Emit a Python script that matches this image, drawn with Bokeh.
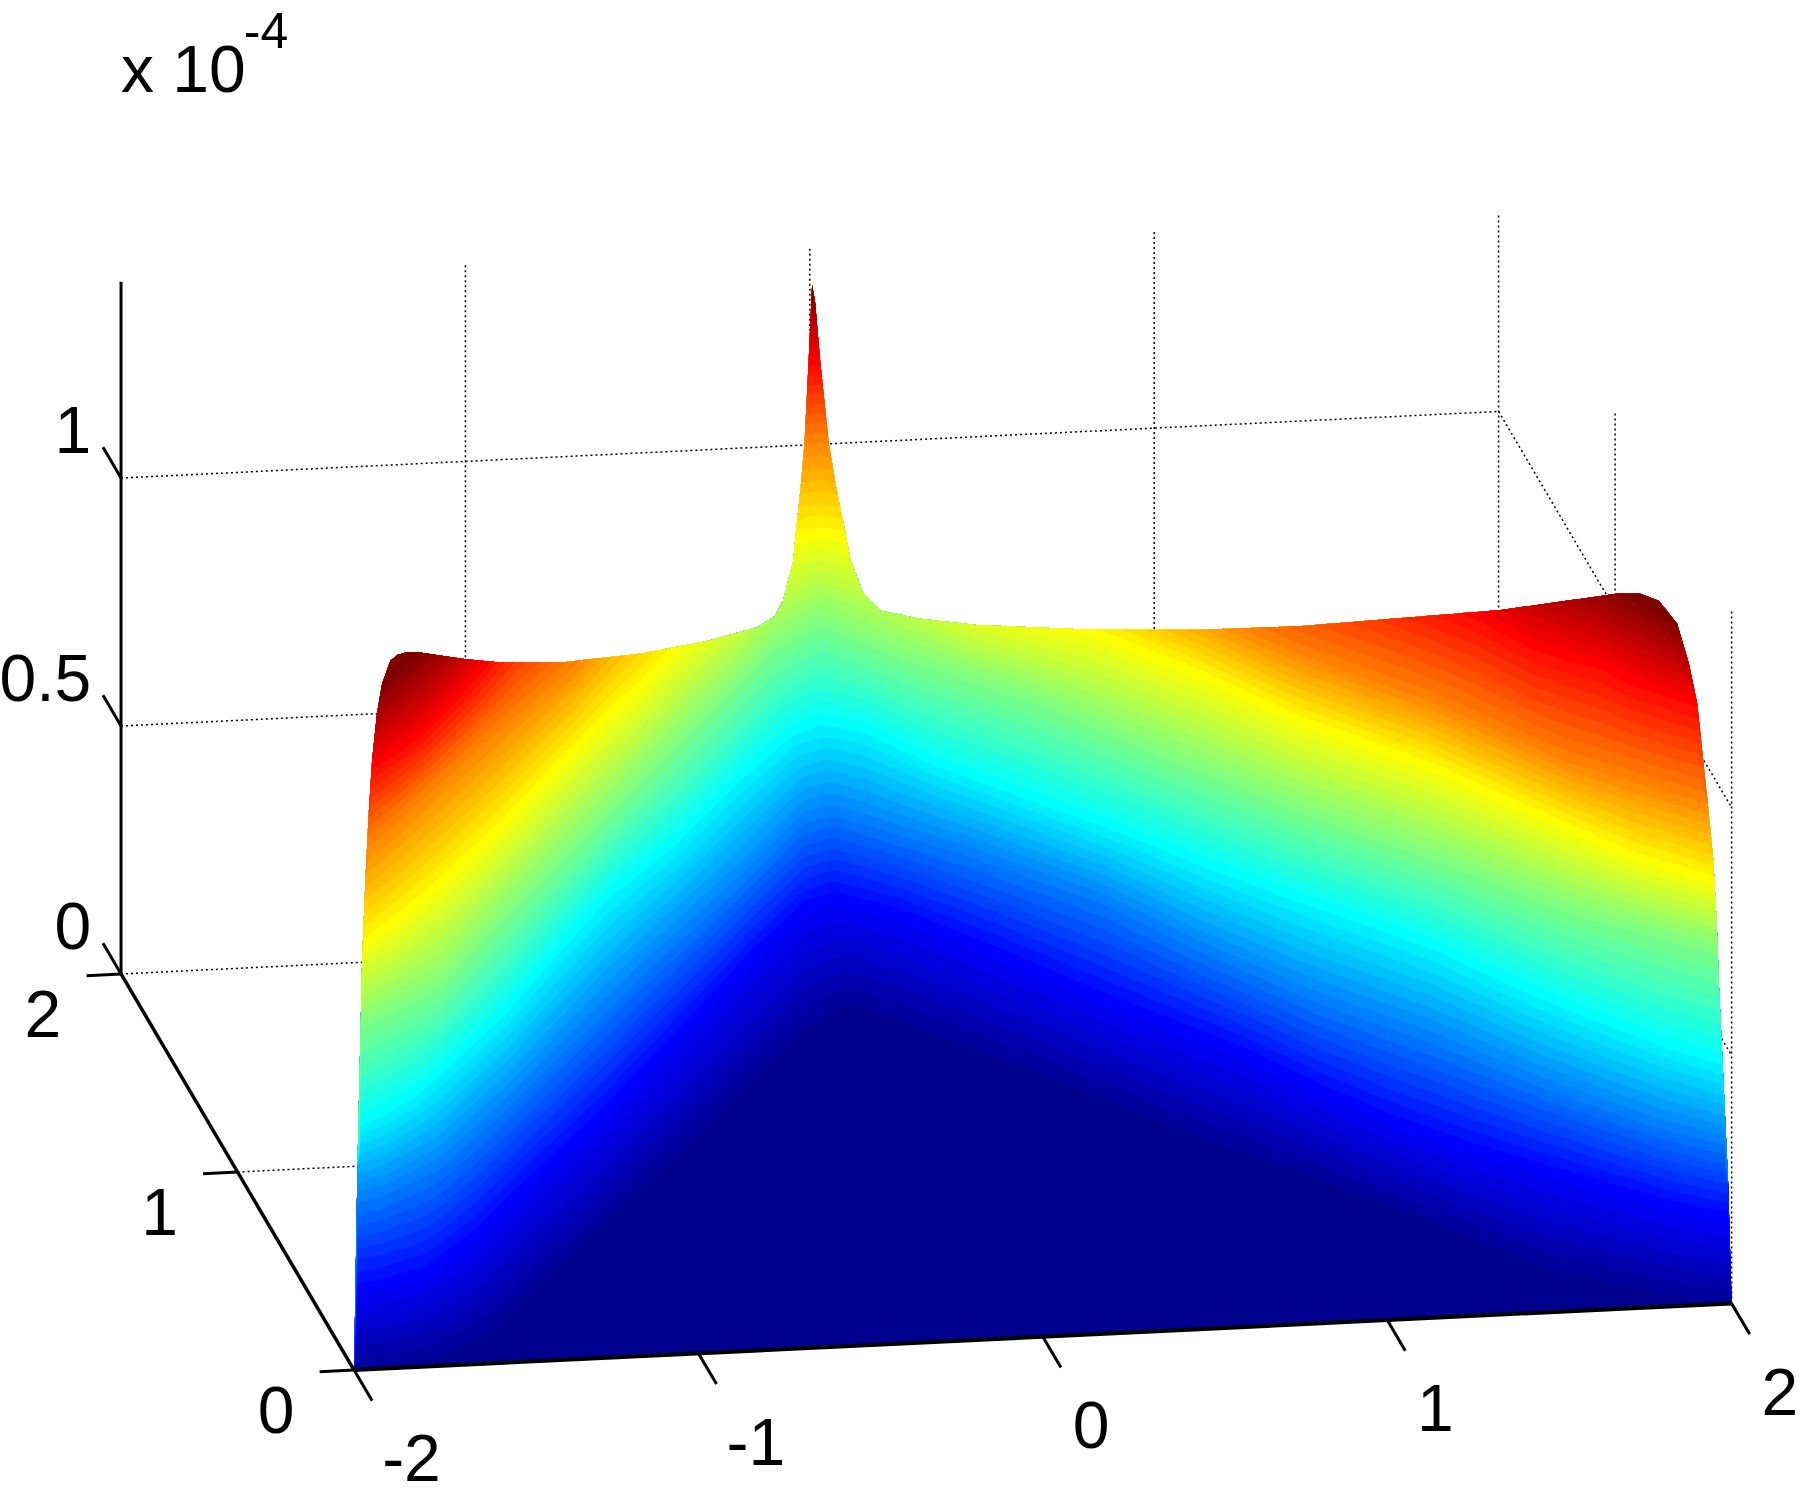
import numpy as np
from bokeh.plotting import figure
from bokeh.models import Range1d
from bokeh.core.properties import value
from bokeh.embed import file_html
from bokeh.resources import INLINE

# Tick values and labels
x_ticks = [-2, -1, 0, 1, 2]
y_ticks = [0, 1, 2]
z_ticks = [0, 0.5, 1]
x_labels = ["-2", "-1", "0", "1", "2"]
y_labels = ["0", "1", "2"]
z_labels = ["0", "0.5", "1"]
z_top = 1.396

# Outline of the surface as seen from the view (view-plane units)
outline_x = [308, 311, 315, 318, 320.8, 323.7, 328, 332.5, 339.7, 346, 354.2, 365.9, 406.5, 434, 490.7, 557.5, 615.6,
             659, 675, 682, 690.6, 693.4, 697, 700.4, 704, 707, 709.5, 714, 721.5, 728, 735, 740.5, 752, 766.6, 801,
             850, 950, 1050, 1132, 1306.6, 1408, 1428.5, 1444.6, 1460.5, 1470.7, 1478, 1483.8, 1488, 1492, 1495,
             1497, 1500, 1505, 1508]
outline_y = [1193, 1015, 838, 764, 708, 662, 621, 595, 575, 570, 567.7, 568, 574, 576.4, 576.4, 569, 558,
             546, 536, 522, 488, 459, 425, 386, 314, 248, 262, 314, 386, 425, 459, 488, 517, 531.5, 538.6,
             544, 548, 548, 545, 531, 516.8, 516.8, 523, 543, 577.5, 612.7, 667.8, 708, 749, 804,
             859.5, 923, 1031, 1135]
edge_x = [308, 1508]
edge_y = [1193, 1135]

# Colour contours: colormap index -> (view-plane x, y)
contours = {
    1.5: ([300, 383, 426.8, 470.4, 528.4, 586.6, 644.6, 700, 731.7, 745, 800, 900, 1045, 1145, 1246, 1345, 1445, 1510],
          [1195, 1181.7, 1158.5, 1115, 1060, 1007.6, 949.5, 895, 877, 874, 895, 932, 990, 1025, 1063, 1103, 1126, 1136]),
    8: ([300, 334, 368.7, 412, 447, 487.8, 528.4, 572, 608, 653.3, 700, 725.7, 784, 871, 958, 1078.6, 1145.4, 1212, 1279, 1379, 1462, 1510],
        [1126, 1118, 1109, 1077.5, 1042.4, 1004.6, 967, 920.5, 882.6, 833, 790, 781, 795.6, 830.4, 868, 914.6, 946.7, 975.6, 999, 1028, 1051, 1061]),
    16: ([300, 334, 383, 441, 499, 557.5, 640, 700, 725.7, 842, 958, 1045, 1145.4, 1246, 1345, 1445, 1510],
         [1045, 1036.6, 1013, 961, 903, 845, 772, 712, 705.6, 740.5, 781, 824, 868, 903, 943.7, 978.6, 995]),
    24: ([300, 334, 363, 398, 441, 476, 528.4, 586.6, 644.6, 690, 717, 755, 813, 900, 987, 1045, 1132, 1190.6, 1248.6, 1328.6, 1378.6, 1445, 1510],
         [982, 967, 949.5, 917.6, 877, 836, 778, 731.7, 673.7, 635, 625.7, 634, 662, 694, 725.6, 749, 781, 801, 821.7, 859.5, 880, 906, 926]),
    32: ([300, 313.6, 383, 441, 499, 557.5, 615.6, 673.6, 714, 784, 900, 1016, 1132, 1248.6, 1365, 1510],
         [897, 891, 856.6, 794, 736, 678, 620, 561.8, 540, 569, 607, 656, 704, 745, 790, 830]),
    40: ([300, 316.4, 348.4, 383, 435.5, 476, 528, 557.5, 586.6, 640, 680, 700, 714, 730, 760, 850, 949.5, 1045, 1132, 1190.6, 1248.6, 1306.6, 1365, 1422.7, 1492, 1510],
         [828, 821.7, 798.6, 769.5, 720, 676.6, 624, 598, 565, 520, 480, 466, 464, 466, 480, 530, 548.8, 586.5, 627, 647.5, 668, 694, 720, 746, 766.6, 772]),
    48: ([300, 320.8, 348.4, 383, 412, 455.7, 499, 560, 690, 714, 730, 850, 1050, 1132, 1248.6, 1365, 1482.7, 1510],
         [745, 731.7, 708.6, 676.6, 650.5, 612.7, 576, 500, 385, 380, 385, 440, 530, 566, 608, 660, 694, 705]),
    56: ([300, 325, 345.5, 368.7, 392, 421, 450, 600, 700, 708, 716, 900, 1200, 1286.6, 1335.6, 1393.7, 1422.7, 1478, 1510],
         [680, 665, 653, 636, 612.7, 579.3, 540, 400, 315, 313.6, 315, 420, 500, 534, 560.4, 577.5, 592.4, 610, 625]),
    64: ([300, 320, 333, 366, 400, 500, 700, 707, 715, 1000, 1300, 1390, 1425, 1460, 1510],
         [650, 620, 595, 568, 540, 420, 252, 248, 252, 380, 470, 505, 520, 542, 570]),
}


def view(x, y, z=0.0):
    """Orthographic projection of (x, y, z*1e4) on the view plane."""
    return (308 + 300 * (x + 2) - 101.5 * y,
            1193 - 14.5 * (x + 2) - 172.5 * y - 432 * z)


def jet(i):
    # MATLAB jet(64), index i = 1..64
    r = np.clip(min(1.5 - abs(4 * i / 64 - 3), 1), 0, 1)
    g = np.clip(min(1.5 - abs(4 * i / 64 - 2), 1), 0, 1)
    b = np.clip(min(1.5 - abs(4 * i / 64 - 1), 1), 0, 1)
    return "#%02x%02x%02x" % tuple(int(round(c * 255)) for c in (r, g, b))


k = 1800 / 1568
W, H = 1800, 1500
p = figure(width=W, height=H, toolbar_location=None, output_backend="svg",
           x_range=Range1d(0, W / k), y_range=Range1d(H / k, 0),
           min_border=0, outline_line_color=None, background_fill_color="white", border_fill_color="white")
p.axis.visible = False
p.grid.visible = False

# Dotted grid on back wall and side wall (surface is painted over it)
gx0, gy0, gx1, gy1 = [], [], [], []


def seg(a, b):
    ax, ay = view(*a)
    bx, by = view(*b)
    gx0.append(ax); gy0.append(ay); gx1.append(bx); gy1.append(by)


for xv in x_ticks[1:]:
    seg((xv, 2, 0), (xv, 2, z_top))
for yv in y_ticks[:-1]:
    seg((2, yv, 0), (2, yv, z_top))
for zv in z_ticks:
    seg((-2, 2, zv), (2, 2, zv))
    seg((2, 2, zv), (2, 0, zv))
for yv in y_ticks[1:2]:
    seg((-2, yv, 0), (2, yv, 0))

p.segment(gx0, gy0, gx1, gy1, line_color="black", line_width=1.5, line_dash="2 3")

# Surface: painted from the lowest colour to the highest
xs = np.unique(np.concatenate([np.arange(308, 1508.01, 3.0), np.arange(670, 770, 0.5), outline_x]))
top = np.interp(xs, outline_x, outline_y)
bottom = np.interp(xs, edge_x, edge_y)
levels = sorted(contours)
rows = np.array([np.interp(xs, *contours[l]) for l in levels])

px, py, colors = [], [], []
for i in range(1, 65):
    if i == 1:
        lower = bottom
    else:
        b = i - 0.5
        lower = np.array([np.interp(b, levels, rows[:, c]) for c in range(len(xs))])
        lower = np.clip(lower, top, bottom)
    mask = lower - top > 0.01
    if not mask.any():
        continue
    lo = max(np.argmax(mask) - 1, 0)
    hi = min(len(xs) - 1 - np.argmax(mask[::-1]) + 1, len(xs) - 1)
    sx = xs[lo:hi + 1]
    px.append(np.concatenate([sx, sx[::-1]]).round(2).tolist())
    py.append(np.concatenate([top[lo:hi + 1], lower[lo:hi + 1][::-1]]).round(2).tolist())
    colors.append(jet(i))
p.patches(px, py, fill_color=colors, line_color=None)

# Box axes
axx = [view(-2, 0), view(-2, 0), view(-2, 2)]
axe = [view(2, 0), view(-2, 2), view(-2, 2, z_top)]
p.segment([a[0] for a in axx], [a[1] for a in axx], [a[0] for a in axe], [a[1] for a in axe],
          line_color="black", line_width=[4, 3.5, 3])

# Ticks
tx0, ty0, tx1, ty1 = [], [], [], []
for v in x_ticks:
    a, b = view(v, 0), view(v, -0.155)
    tx0.append(a[0]); ty0.append(a[1]); tx1.append(b[0]); ty1.append(b[1])
for v in y_ticks:
    a, b = view(-2, v), view(-2.1, v)
    tx0.append(a[0]); ty0.append(a[1]); tx1.append(b[0]); ty1.append(b[1])
for v in z_ticks:
    a, b = view(-2, 2, v), view(-2, 2.155, v)
    tx0.append(a[0]); ty0.append(a[1]); tx1.append(b[0]); ty1.append(b[1])
p.segment(tx0, ty0, tx1, ty1, line_color="black", line_width=3)

# Labels
font = value("Liberation Sans")
lab = dict(text_font=font, text_font_size="66px", text_color="black")
p.text([view(v, 0)[0] + (50 if v < 0 else 42) for v in x_ticks], [view(v, 0)[1] + 77 for v in x_ticks], text=x_labels,
       text_align="center", text_baseline="middle", **lab)
p.text([view(-2, v)[0] - 68 for v in y_ticks], [view(-2, v)[1] + 35 for v in y_ticks], text=y_labels,
       text_align="center", text_baseline="middle", **lab)
p.text([view(-2, 2, v)[0] - 26 for v in z_ticks], [view(-2, 2, v)[1] - 42 for v in z_ticks], text=z_labels,
       text_align="right", text_baseline="middle", **lab)
p.text([105], [60], text=["x 10"], text_align="left", text_baseline="middle", **lab)
p.text([212], [26], text=["-4"], text_align="left", text_baseline="middle",
       text_font=font, text_font_size="50px", text_color="black")

open("out.html", "w").write(file_html(p, INLINE))
